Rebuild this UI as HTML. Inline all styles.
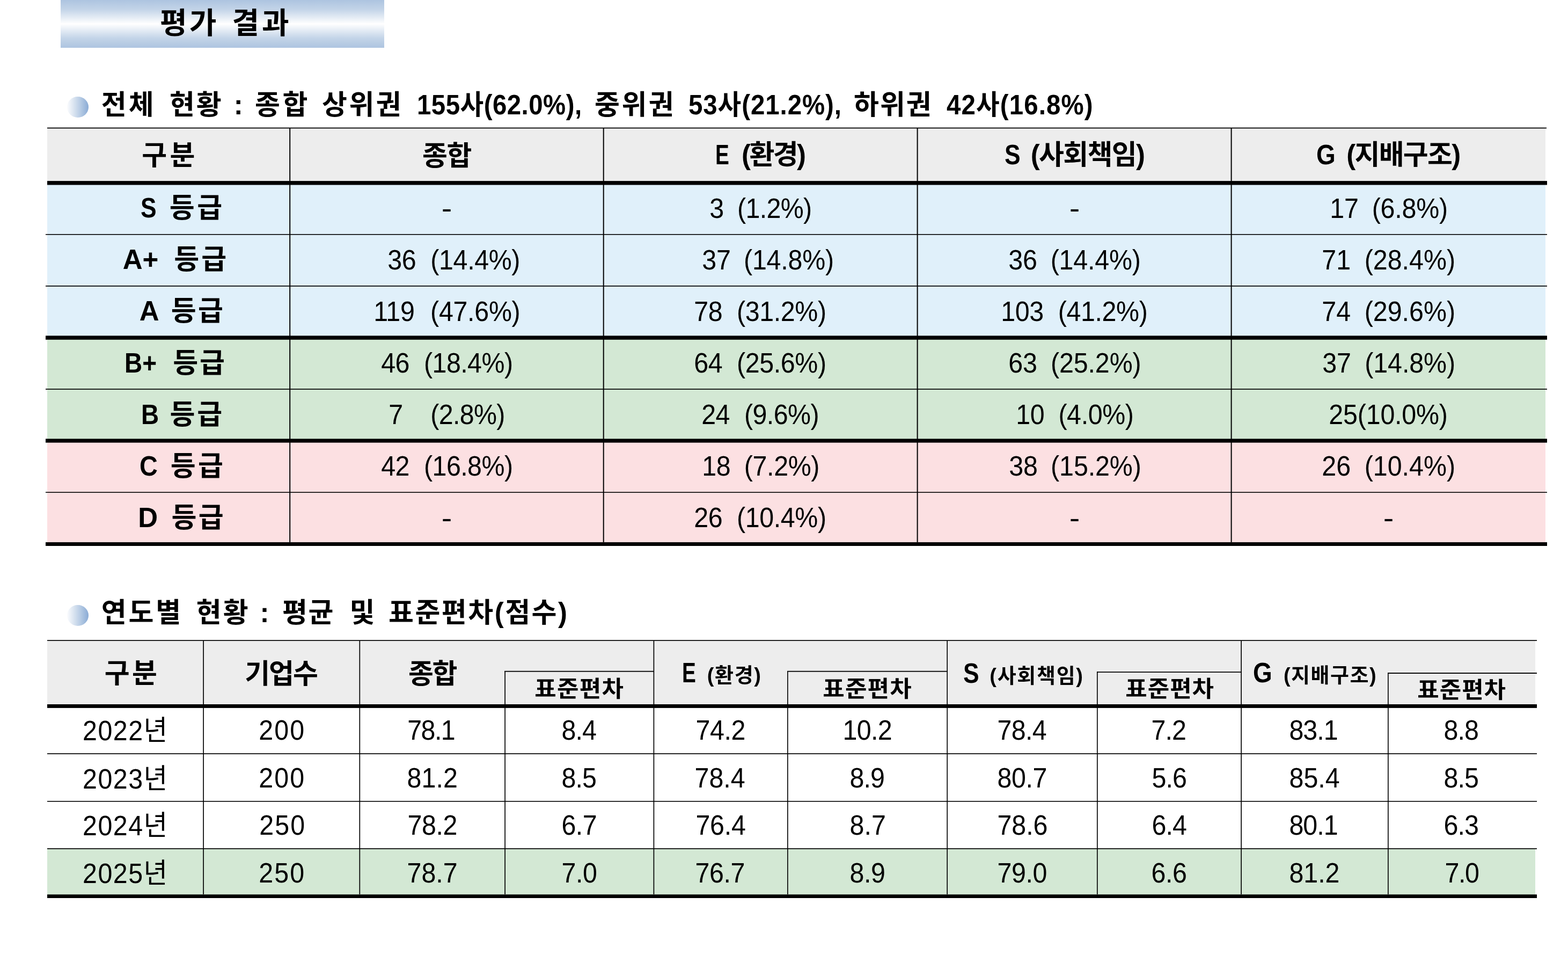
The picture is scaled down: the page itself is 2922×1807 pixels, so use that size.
<!DOCTYPE html>
<html lang="ko">
<head>
<meta charset="utf-8">
<title>평가 결과</title>
<style>
*{box-sizing:border-box}
html,body{margin:0;padding:0}
body{width:2922px;height:1807px;position:relative;background:#fff;color:#000;
 font-family:"Liberation Sans","Noto Sans CJK KR",sans-serif}
.banner{position:absolute;left:113px;top:0;width:603px;height:89px;
 background:linear-gradient(to bottom,#adc4e0 0%,#c3d4e8 20%,#ffffff 50%,#c3d4e8 80%,#adc4e0 100%)}
h1,h2{margin:0;position:absolute;left:0;font-weight:bold;white-space:pre}
h1{top:0;height:89px;line-height:89px;font-size:55px}
h2{height:80px;line-height:80px;font-size:51px}
h1 span,h2 span{position:absolute;top:0}
h2 .n{transform:scaleX(.93);transform-origin:0 50%}
.bullet{position:absolute;width:40px;height:39px;border-radius:50%;
 background:linear-gradient(to right,#fbfcfe 0%,#dbe5f1 30%,#b9cde5 60%,#8aabd5 100%)}
table{position:absolute;border-collapse:separate;border-spacing:0;table-layout:fixed}
td,th{padding:0;margin:0;text-align:center;vertical-align:middle;white-space:pre;overflow:visible;
 font-weight:normal;font-size:52px;line-height:60px;word-spacing:13px;letter-spacing:0}
th{font-weight:bold;font-size:51px;word-spacing:0;letter-spacing:0}
td>span,th>span{position:relative;display:inline-block}
td>span{transform:scaleX(.93)}
.l{display:inline-block;transform-origin:0 50%;letter-spacing:0}
.lE{transform:scaleX(.76);margin-right:-8px}
.lS{transform:scaleX(.87);margin-right:-4px}
.lG{transform:scaleX(.9);margin-right:-4px}
.lB{transform:scaleX(.9);margin-right:-4px}
.lC{transform:scaleX(.92);margin-right:-3px}
.hd{background:#ededed}
.bl{background:#e0f0fa}
.gr{background:#d3e8d4}
.pk{background:#fce0e2}
.ln{position:absolute;background:#000}
small{font-size:38px}
.sd{font-size:41.5px}
.sd>span{transform:scaleX(1.06)}
.t2 td{letter-spacing:-1px;word-spacing:0}
</style>
</head>
<body>
<div class="banner"><h1 style="top:-1px"><span style="left:185px;letter-spacing:4.1px">평가</span> <span style="left:319.6px;letter-spacing:4.9px">결과</span></h1></div>
<div class="bullet" style="left:125px;top:180px"></div>
<h2 style="top:155.8px"><span style="left:188.8px;letter-spacing:4px">전체</span> <span style="left:316px;letter-spacing:2.8px">현황</span> <span style="left:435.7px">:</span> <span style="left:475px;letter-spacing:4.6px">종합</span> <span style="left:600px;letter-spacing:3.5px">상위권</span> <span class="n" style="left:777px;letter-spacing:0.5px">155사(62.0%),</span> <span style="left:1108px;letter-spacing:3.5px">중위권</span> <span class="n" style="left:1283px;letter-spacing:1px">53사(21.2%),</span> <span style="left:1591px;letter-spacing:2px">하위권</span> <span class="n" style="left:1763.6px;letter-spacing:1.2px">42사(16.8%)</span></h2>
<table style="left:88px;top:238px;width:2792px">
<colgroup><col style="width:452px"><col style="width:585px"><col style="width:585px"><col style="width:585px"><col style="width:585px"></colgroup>
<tr class="hd" style="height:103px"><th><span style="letter-spacing:5.3px;left:2.6px;top:0.4px">구분</span></th><th><span style="letter-spacing:-1.5px;left:-0.1px;top:1.5px">종합</span></th><th><span style="letter-spacing:-2.6px;word-spacing:11.4px;left:-1.2px;top:-0.6px"><span class="l lE">E</span> (환경)</span></th><th><span style="letter-spacing:-1.7px;word-spacing:6.4px;left:-0.5px;top:-0.2px"><span class="l lS">S</span> (사회책임)</span></th><th><span style="letter-spacing:-1.7px;word-spacing:7.8px;left:-0.6px;top:-0.2px"><span class="l lG">G</span> (지배구조)</span></th></tr>
<tr class="bl" style="height:96px"><th><span style="letter-spacing:4.4px;word-spacing:5.2px;left:26.3px;top:-1.4px"><span class="l lS">S</span> 등급</span></th><td><span style="top:-0.9px;transform:scaleX(1.13)">-</span></td><td><span style="letter-spacing:-0.7px;word-spacing:13.7px;left:-0.3px;top:-1.5px">3 (1.2%)</span></td><td><span style="top:-0.9px;transform:scaleX(1.13)">-</span></td><td><span style="letter-spacing:-0.2px;word-spacing:12.6px;left:0.7px;top:-1.5px">17 (6.8%)</span></td></tr>
<tr class="bl" style="height:96px"><th><span style="letter-spacing:4px;word-spacing:10.8px;left:13.4px;top:-1.2px"><span class="l">A+</span> 등급</span></th><td><span style="letter-spacing:-0.4px;word-spacing:15px;left:13px;top:-1.2px">36 (14.4%)</span></td><td><span style="letter-spacing:-0.2px;word-spacing:11.9px;left:13.4px;top:-1.2px">37 (14.8%)</span></td><td><span style="letter-spacing:-0.2px;word-spacing:12.6px;top:-1.2px">36 (14.4%)</span></td><td><span style="left:-0.2px;top:-1.2px">71 (28.4%)</span></td></tr>
<tr class="bl" style="height:96px"><th><span style="letter-spacing:3.4px;word-spacing:4.6px;left:25.5px;top:-1px"><span class="l">A</span> 등급</span></th><td><span style="letter-spacing:-0.3px;word-spacing:17.6px;left:0.4px;top:-1.2px">119 (47.6%)</span></td><td><span style="letter-spacing:-0.4px;word-spacing:14.6px;left:-0.6px;top:-1.2px">78 (31.2%)</span></td><td><span style="letter-spacing:-0.4px;word-spacing:14.8px;left:-0.8px;top:-1.2px">103 (41.2%)</span></td><td><span style="left:-0.2px;top:-1.2px">74 (29.6%)</span></td></tr>
<tr class="gr" style="height:96px"><th><span style="letter-spacing:3px;word-spacing:10.2px;left:13.1px;top:-0.1px"><span class="l lB">B+</span> 등급</span></th><td><span style="letter-spacing:-0.6px;word-spacing:15.3px;left:0.2px;top:-1.2px">46 (18.4%)</span></td><td><span style="letter-spacing:-0.4px;word-spacing:14.6px;left:-0.6px;top:-1.2px">64 (25.6%)</span></td><td><span style="letter-spacing:-0.1px;word-spacing:12.5px;left:0.4px;top:-1.2px">63 (25.2%)</span></td><td><span style="letter-spacing:-0.1px;word-spacing:12.9px;left:0.2px;top:-1.2px">37 (14.8%)</span></td></tr>
<tr class="gr" style="height:96px"><th><span style="letter-spacing:3.8px;word-spacing:3.1px;left:26.2px;top:0.3px"><span class="l lB">B</span> 등급</span></th><td><span style="letter-spacing:-0.7px;word-spacing:14.1px;top:-1.1px">7  (2.8%)</span></td><td><span style="letter-spacing:-0.6px;word-spacing:15.2px;left:-1.2px;top:-1.1px">24 (9.6%)</span></td><td><span style="letter-spacing:-0.4px;word-spacing:14px;top:-1.1px">10 (4.0%)</span></td><td><span style="letter-spacing:-0.2px;left:-0.9px;top:-1.1px">25(10.0%)</span></td></tr>
<tr class="pk" style="height:96px"><th><span style="letter-spacing:4.2px;word-spacing:5.6px;left:26px;top:-0.4px"><span class="l lC">C</span> 등급</span></th><td><span style="letter-spacing:-0.6px;word-spacing:15.3px;left:0.2px;top:-1px">42 (16.8%)</span></td><td><span style="letter-spacing:-0.4px;word-spacing:13.4px;left:0.2px;top:-1px">18 (7.2%)</span></td><td><span style="letter-spacing:-0.1px;word-spacing:11.7px;left:0.9px;top:-1px">38 (15.2%)</span></td><td><span style="left:-0.2px;top:-1px">26 (10.4%)</span></td></tr>
<tr class="pk" style="height:96px"><th><span style="letter-spacing:3.2px;word-spacing:8px;left:24.6px;top:-0.2px"><span class="l">D</span> 등급</span></th><td><span style="transform:scaleX(1.13)">-</span></td><td><span style="letter-spacing:-0.4px;word-spacing:14.6px;left:-0.6px;top:-1px">26 (10.4%)</span></td><td><span style="transform:scaleX(1.13)">-</span></td><td><span style="left:0.1px;transform:scaleX(1.13)">-</span></td></tr>
</table>
<div class="ln" style="left:87.7px;top:237px;width:2794.7px;height:3px;background:linear-gradient(to bottom,rgba(0,0,0,0.4) 0 1px,#000 1px 2px,rgba(0,0,0,0.4) 2px)"></div>
<div class="ln" style="left:87.7px;top:337px;width:2795.1px;height:8px;background:linear-gradient(to bottom,rgba(0,0,0,0.9) 0 1px,#000 1px 7px,rgba(0,0,0,0.5) 7px)"></div>
<div class="ln" style="left:84.6px;top:436px;width:2798.2px;height:2px;background:linear-gradient(to bottom,#000 0 1px,rgba(0,0,0,0.6) 1px)"></div>
<div class="ln" style="left:84.6px;top:532px;width:2798.2px;height:2px;background:linear-gradient(to bottom,#000 0 1px,rgba(0,0,0,0.7) 1px)"></div>
<div class="ln" style="left:84.6px;top:625px;width:2798.2px;height:8px;background:linear-gradient(to bottom,rgba(0,0,0,0.6) 0 1px,#000 1px 7px,rgba(0,0,0,0.8) 7px)"></div>
<div class="ln" style="left:84.6px;top:724px;width:2798.2px;height:2px;background:linear-gradient(to bottom,rgba(0,0,0,0.9) 0 1px,#000 1px 1px,rgba(0,0,0,0.8) 1px)"></div>
<div class="ln" style="left:84.6px;top:817px;width:2798.2px;height:8px;background:linear-gradient(to bottom,rgba(0,0,0,0.6) 0 1px,#000 1px 7px,rgba(0,0,0,0.6) 7px)"></div>
<div class="ln" style="left:84.6px;top:916px;width:2798.2px;height:2px;background:linear-gradient(to bottom,rgba(0,0,0,0.6) 0 1px,#000 1px 2px)"></div>
<div class="ln" style="left:84.6px;top:1010px;width:2798.2px;height:7px;background:linear-gradient(to bottom,rgba(0,0,0,0.9) 0 1px,#000 1px 7px)"></div>
<div class="ln" style="left:539px;top:239.4px;width:3px;height:770.7px;background:linear-gradient(to right,rgba(0,0,0,0.8) 0 1px,#000 1px 2px,rgba(0,0,0,0.2) 2px)"></div>
<div class="ln" style="left:1123px;top:239.4px;width:3px;height:770.7px;background:linear-gradient(to right,rgba(0,0,0,0.3) 0 1px,#000 1px 2px,rgba(0,0,0,0.7) 2px)"></div>
<div class="ln" style="left:1708px;top:239.4px;width:3px;height:770.7px;background:linear-gradient(to right,rgba(0,0,0,0.4) 0 1px,#000 1px 2px,rgba(0,0,0,0.6) 2px)"></div>
<div class="ln" style="left:2293px;top:239.4px;width:3px;height:770.7px;background:linear-gradient(to right,rgba(0,0,0,0.4) 0 1px,#000 1px 2px,rgba(0,0,0,0.6) 2px)"></div>
<div class="bullet" style="left:125px;top:1127px"></div>
<h2 style="top:1101.9px"><span style="left:188.7px;letter-spacing:3.8px">연도별</span> <span style="left:365.8px;letter-spacing:3px">현황</span> <span style="left:484.4px">:</span> <span style="left:526px;letter-spacing:1.7px">평균</span> <span style="left:651.5px">및</span> <span style="left:724px;letter-spacing:2.5px">표준편차(점수)</span></h2>
<table class="t2" style="left:88px;top:1194px;width:2773px">
<colgroup><col style="width:291px"><col style="width:291px"><col style="width:271px"><col style="width:277px"><col style="width:250px"><col style="width:297px"><col style="width:280px"><col style="width:268px"><col style="width:274px"><col style="width:274px"></colgroup>
<tr class="hd" style="height:58px"><th rowspan="2"><span style="letter-spacing:4.3px;left:12.4px">구분</span></th><th rowspan="2"><span style="letter-spacing:-2.1px;left:-1px;top:0.5px">기업수</span></th><th rowspan="2"><span style="letter-spacing:-2.5px;left:-0.1px;top:0.5px">종합</span></th><th></th><th rowspan="2"><span style="letter-spacing:1.7px;word-spacing:4.5px;left:2.5px;top:1px"><span class="l lE">E</span> <small>(환경)</small></span></th><th></th><th rowspan="2"><span style="letter-spacing:1.7px;word-spacing:3.4px;left:2.4px;top:1.5px"><span class="l lS">S</span> <small>(사회책임)</small></span></th><th></th><th rowspan="2"><span style="letter-spacing:1.5px;word-spacing:5.3px;left:0.7px;top:1px"><span class="l lG">G</span> <small>(지배구조)</small></span></th><th></th></tr>
<tr class="hd" style="height:64px"><th class="sd"><span style="letter-spacing:1.2px;left:0.6px">표준편차</span></th><th class="sd"><span style="letter-spacing:1.1px;left:0.5px">표준편차</span></th><th class="sd"><span style="letter-spacing:0.9px;left:1.1px">표준편차</span></th><th class="sd"><span style="letter-spacing:0.9px;left:0.1px;top:2.1px">표준편차</span></th></tr>
<tr style="height:88px"><td><span style="letter-spacing:1.6px;left:0.2px;top:1.2px">2022년</span></td><td><span style="letter-spacing:2.3px;left:1.8px">200</span></td><td><span style="letter-spacing:-1.7px;left:-2.5px">78.1</span></td><td><span style="left:-0.8px">8.4</span></td><td><span style="letter-spacing:-0.4px;left:-0.5px">74.2</span></td><td><span style="letter-spacing:-0.7px">10.2</span></td><td><span style="letter-spacing:-0.7px;left:-0.5px">78.4</span></td><td><span style="left:-1.2px">7.2</span></td><td><span style="left:-2.8px">83.1</span></td><td><span style="left:-0.9px">8.8</span></td></tr>
<tr style="height:88px"><td><span style="letter-spacing:1.6px;left:0.2px;top:2.5px">2023년</span></td><td><span style="letter-spacing:2.3px;left:1.8px;top:1.3px">200</span></td><td><span style="letter-spacing:0.1px;left:0.1px;top:1.3px">81.2</span></td><td><span style="left:-1.2px;top:1.3px">8.5</span></td><td><span style="letter-spacing:0px;left:-1.2px;top:1.3px">78.4</span></td><td><span style="left:-0.8px;top:1.3px">8.9</span></td><td><span style="letter-spacing:-0.4px;top:1.3px">80.7</span></td><td><span style="left:-0.8px;top:1.3px">5.6</span></td><td><span style="letter-spacing:0px;left:-0.6px;top:1.3px">85.4</span></td><td><span style="left:-1.6px;top:1.3px">8.5</span></td></tr>
<tr style="height:89px"><td><span style="letter-spacing:1.6px;left:0.2px;top:1.4px">2024년</span></td><td><span style="letter-spacing:2.3px;left:2.1px">250</span></td><td><span style="letter-spacing:-0.4px">78.2</span></td><td><span style="letter-spacing:-0.6px">6.7</span></td><td><span style="letter-spacing:-0.3px;left:-0.3px">76.4</span></td><td><span style="letter-spacing:0.1px;left:0.5px">8.7</span></td><td><span style="letter-spacing:-0.1px;left:0.3px">78.6</span></td><td><span style="left:-0.8px">6.4</span></td><td><span style="left:-2.8px">80.1</span></td><td><span style="left:-1.6px">6.3</span></td></tr>
<tr class="gr" style="height:89px"><td><span style="letter-spacing:1.6px;left:0.2px;top:1px">2025년</span></td><td><span style="letter-spacing:2.2px;left:1.1px;top:0.8px">250</span></td><td><span style="letter-spacing:0px;left:0.5px;top:0.8px">78.7</span></td><td><span style="letter-spacing:-0.4px;left:-0.1px;top:0.8px">7.0</span></td><td><span style="letter-spacing:-0.4px;left:-1px;top:0.8px">76.7</span></td><td><span style="letter-spacing:-0.4px;left:-0.1px;top:0.8px">8.9</span></td><td><span style="letter-spacing:-0.4px;left:-0.5px;top:0.8px">79.0</span></td><td><span style="letter-spacing:-0.4px;left:-0.7px;top:0.8px">6.6</span></td><td><span style="letter-spacing:-0.1px;left:-0.5px;top:0.8px">81.2</span></td><td><span style="letter-spacing:-1.4px;left:-0.4px;top:0.8px">7.0</span></td></tr>
</table>
<div class="ln" style="left:87.7px;top:1192px;width:2775.9px;height:2px;background:linear-gradient(to bottom,rgba(0,0,0,0.7) 0 1px,#000 1px 2px)"></div>
<div class="ln" style="left:87.7px;top:1312px;width:2775.9px;height:7px;background:linear-gradient(to bottom,#000 0 6px,rgba(0,0,0,0.9) 6px)"></div>
<div class="ln" style="left:87.7px;top:1403px;width:2775.9px;height:2px;background:linear-gradient(to bottom,rgba(0,0,0,0.7) 0 1px,#000 1px 2px)"></div>
<div class="ln" style="left:87.7px;top:1492px;width:2775.9px;height:2px;background:linear-gradient(to bottom,#000 0 1px,rgba(0,0,0,0.6) 1px)"></div>
<div class="ln" style="left:87.7px;top:1580px;width:2775.9px;height:2px;background:linear-gradient(to bottom,rgba(0,0,0,0.8) 0 1px,#000 1px 1px,rgba(0,0,0,0.9) 1px)"></div>
<div class="ln" style="left:87.7px;top:1666px;width:2775.9px;height:7px;background:linear-gradient(to bottom,rgba(0,0,0,0.7) 0 1px,#000 1px 7px)"></div>
<div class="ln" style="left:378px;top:1194px;width:2px;height:472.3px;background:linear-gradient(to right,rgba(0,0,0,0.75) 0 1px,#000 1px 1px,rgba(0,0,0,0.95) 1px)"></div>
<div class="ln" style="left:669px;top:1194px;width:3px;height:472.3px;background:linear-gradient(to right,rgba(0,0,0,0.55) 0 1px,#000 1px 2px,rgba(0,0,0,0.15) 2px)"></div>
<div class="ln" style="left:940px;top:1249.8px;width:2px;height:416.5px;background:linear-gradient(to right,rgba(0,0,0,0.75) 0 1px,#000 1px 1px,rgba(0,0,0,0.95) 1px)"></div>
<div class="ln" style="left:940.2px;top:1249px;width:278.2px;height:3px;background:linear-gradient(to bottom,rgba(0,0,0,0.2) 0 1px,#000 1px 2px,rgba(0,0,0,0.6) 2px)"></div>
<div class="ln" style="left:1217px;top:1194px;width:3px;height:472.3px;background:linear-gradient(to right,rgba(0,0,0,0.45) 0 1px,#000 1px 2px,rgba(0,0,0,0.25) 2px)"></div>
<div class="ln" style="left:1467px;top:1249.8px;width:2px;height:416.5px;background:linear-gradient(to right,#000 0 1px,rgba(0,0,0,0.65) 1px)"></div>
<div class="ln" style="left:1467px;top:1249px;width:298.2px;height:3px;background:linear-gradient(to bottom,rgba(0,0,0,0.2) 0 1px,#000 1px 2px,rgba(0,0,0,0.6) 2px)"></div>
<div class="ln" style="left:1764px;top:1194px;width:2px;height:472.3px;background:linear-gradient(to right,rgba(0,0,0,0.65) 0 1px,#000 1px 2px)"></div>
<div class="ln" style="left:2044px;top:1251.2px;width:2px;height:415.1px;background:linear-gradient(to right,#000 0 1px,rgba(0,0,0,0.65) 1px)"></div>
<div class="ln" style="left:2044px;top:1251px;width:269.1px;height:2px;background:linear-gradient(to bottom,rgba(0,0,0,0.8) 0 1px,#000 1px 1px,rgba(0,0,0,0.9) 1px)"></div>
<div class="ln" style="left:2312px;top:1194px;width:2px;height:472.3px;background:linear-gradient(to right,rgba(0,0,0,0.75) 0 1px,#000 1px 1px,rgba(0,0,0,0.95) 1px)"></div>
<div class="ln" style="left:2586px;top:1253.1px;width:2px;height:413.2px;background:linear-gradient(to right,#000 0 1px,rgba(0,0,0,0.65) 1px)"></div>
<div class="ln" style="left:2586px;top:1253px;width:277.6px;height:2px;background:linear-gradient(to bottom,rgba(0,0,0,0.9) 0 1px,#000 1px 2px)"></div>
</body>
</html>
